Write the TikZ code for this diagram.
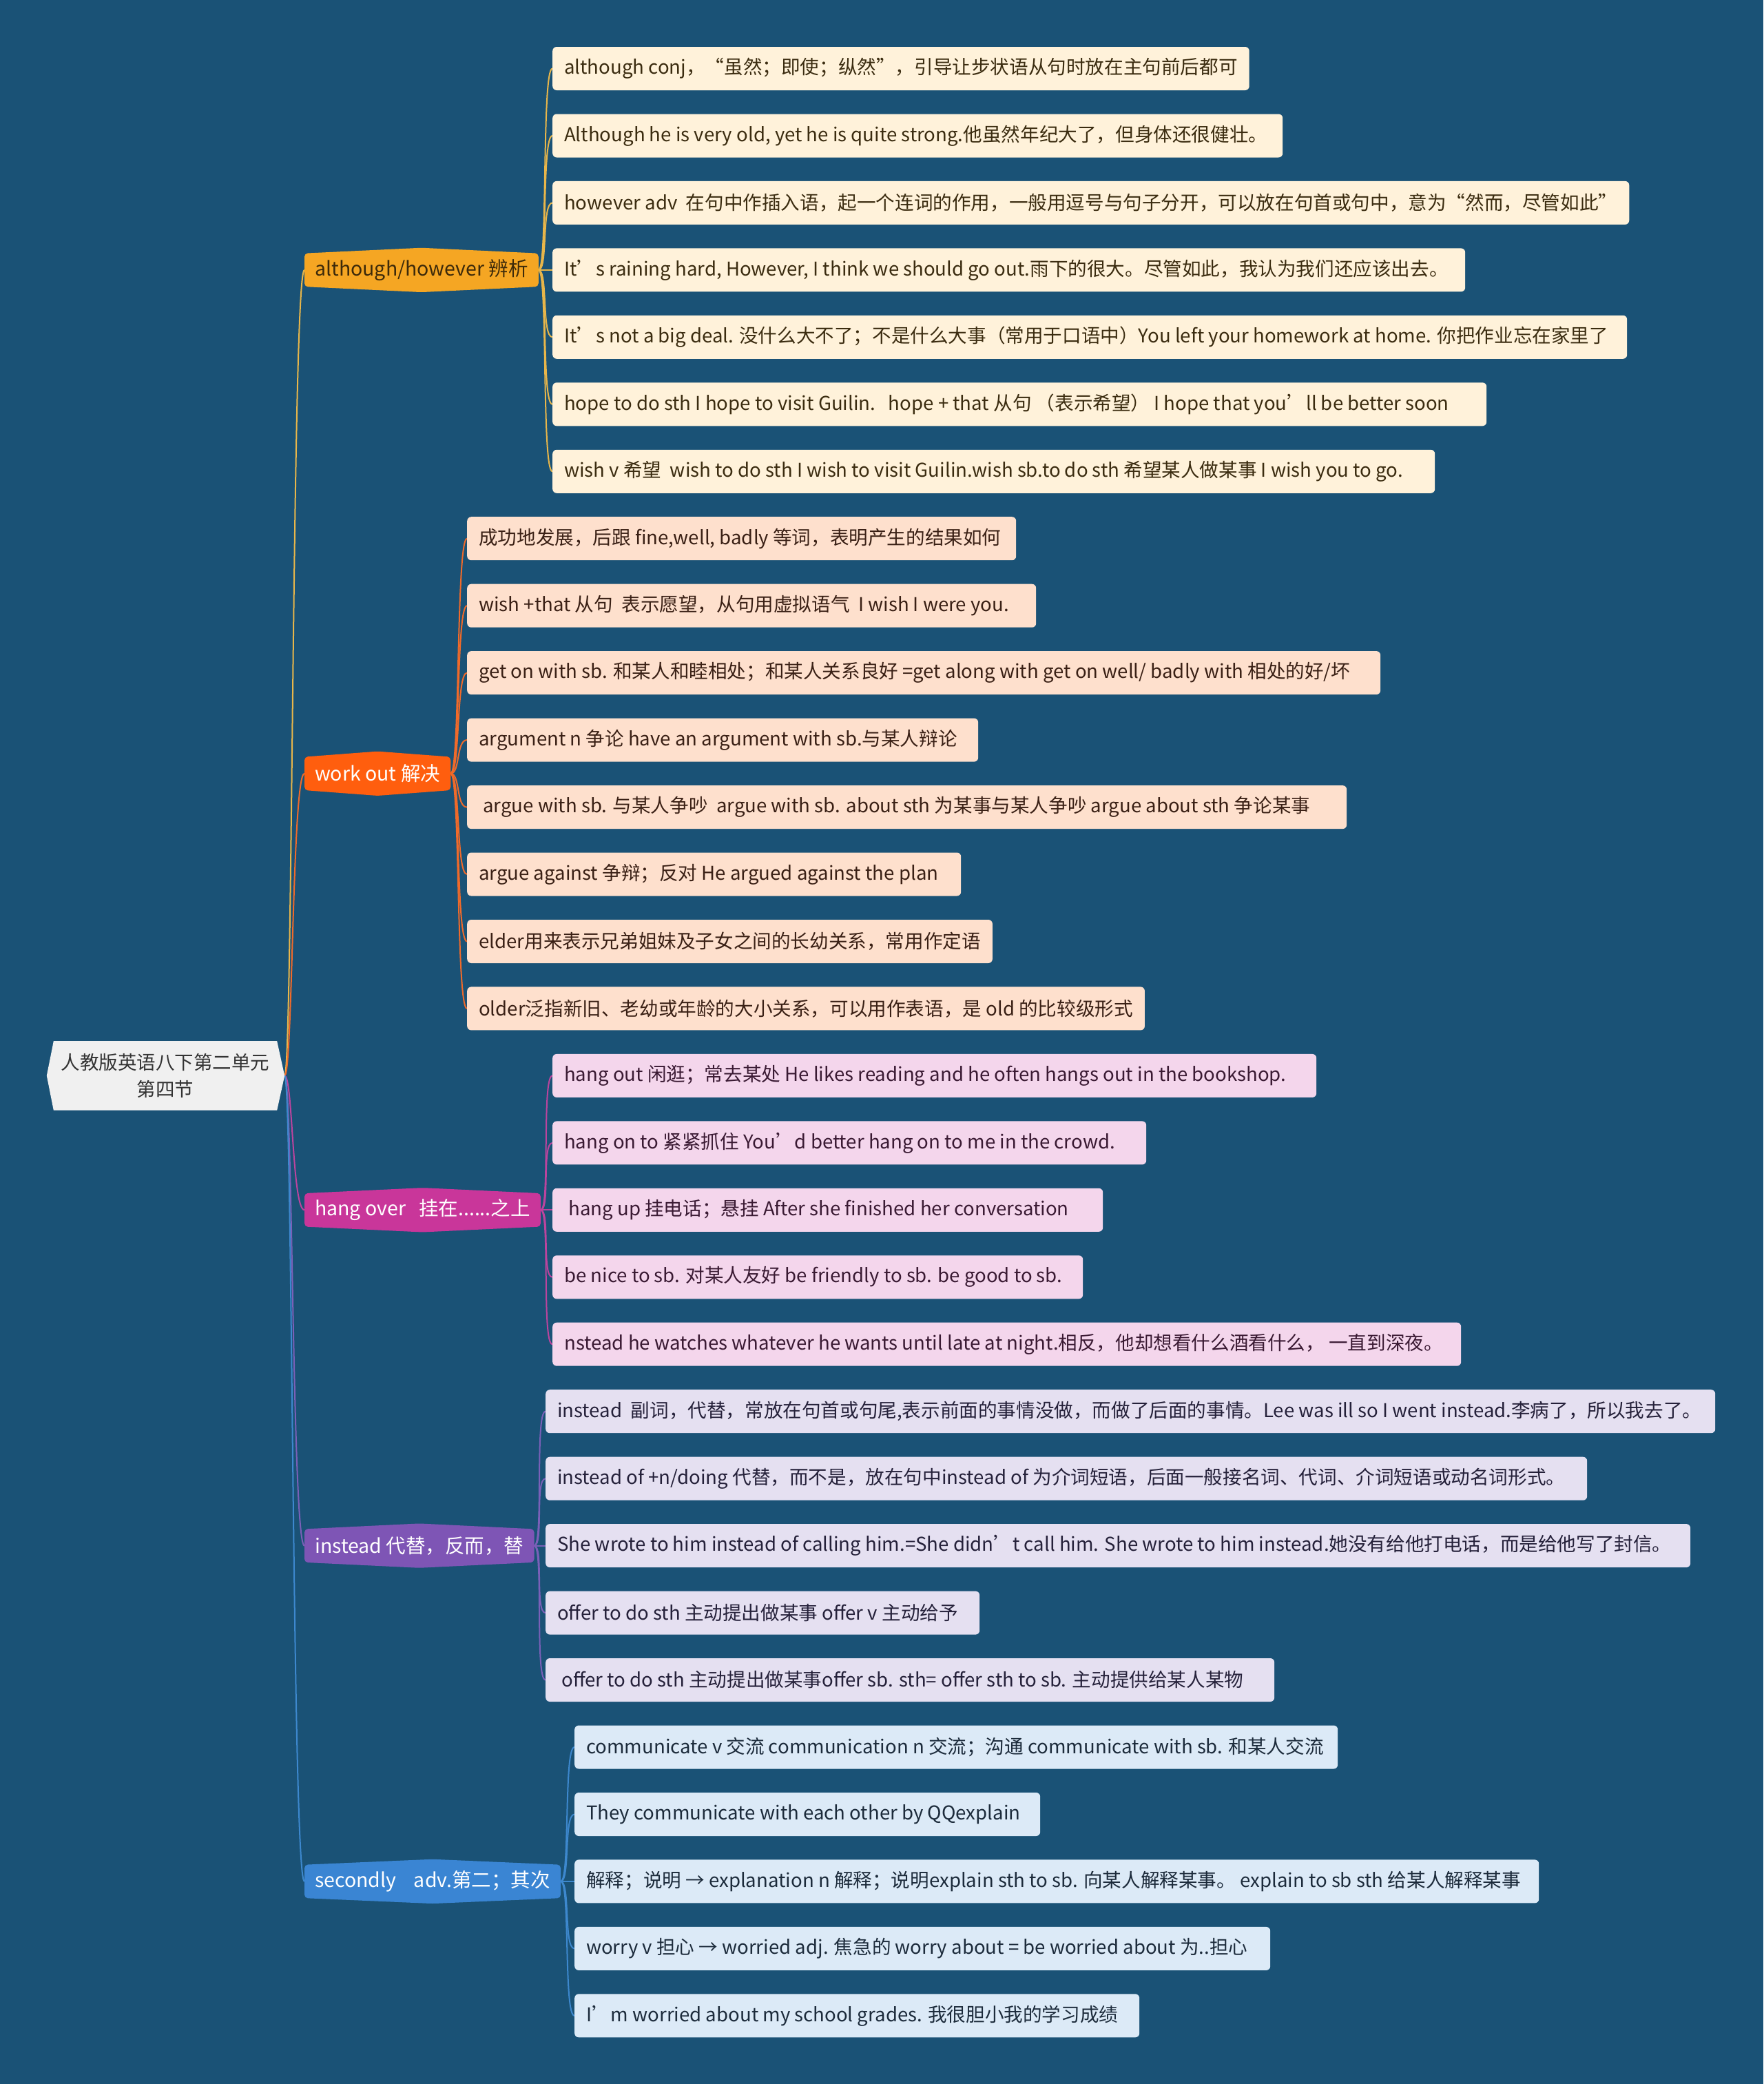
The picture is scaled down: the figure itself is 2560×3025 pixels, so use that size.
\documentclass[tikz,border=0pt]{standalone}
\usepackage{fontspec}
\setmainfont{Noto Sans CJK SC}
\usetikzlibrary{calc}
\definecolor{bgc}{HTML}{1A5276}
\definecolor{rootf}{HTML}{F0F0F0}
\definecolor{roott}{HTML}{333333}
\definecolor{bA}{HTML}{F5A623}
\definecolor{bB}{HTML}{FF5E0E}
\definecolor{bC}{HTML}{C9369A}
\definecolor{bD}{HTML}{7E55B5}
\definecolor{bE}{HTML}{3A85D3}
\definecolor{cA}{HTML}{E8B64A}
\definecolor{cB}{HTML}{F06A2A}
\definecolor{cC}{HTML}{BC449E}
\definecolor{cD}{HTML}{7A60B8}
\definecolor{cE}{HTML}{3D88CE}
\definecolor{fA}{HTML}{FFF2DA}
\definecolor{fB}{HTML}{FEE0CD}
\definecolor{fC}{HTML}{F4D6EC}
\definecolor{fD}{HTML}{E5E0F1}
\definecolor{fE}{HTML}{DCEAF7}
\definecolor{tA}{HTML}{3B2C10}
\definecolor{tB}{HTML}{3A2015}
\definecolor{tC}{HTML}{3A1A33}
\definecolor{tD}{HTML}{25213A}
\definecolor{tE}{HTML}{1C2B3B}
\definecolor{tBr}{HTML}{3D2A0A}
\newsavebox\ltbox
\newcommand\lt[2]{\sbox\ltbox{#2}\ifdim\wd\ltbox<#1\relax\makebox[#1][l]{\usebox\ltbox}\else\usebox\ltbox\fi}
\pgfdeclarelayer{back}
\pgfdeclarelayer{bg}
\pgfsetlayers{back,bg,main}
\tikzset{
  leaf/.style={rounded corners=6pt, minimum height=63pt, inner xsep=17pt, inner ysep=0pt, anchor=west, font=\fontsize{27.6}{32}\selectfont},
  lA/.style={leaf, fill=fA, text=tA},
  lB/.style={leaf, fill=fB, text=tB},
  lC/.style={leaf, fill=fC, text=tC},
  lD/.style={leaf, fill=fD, text=tD},
  lE/.style={leaf, fill=fE, text=tE},
  brn/.style={minimum height=48pt, inner xsep=15pt, inner ysep=0pt, anchor=west, font=\fontsize{28.5}{34}\selectfont},
  conn/.style={line width=2pt},
  rootnode/.style={minimum width=324pt, minimum height=100pt, inner sep=0pt, align=center, text=roott, font=\fontsize{27.5}{39}\selectfont}
}
\begin{document}
\begin{tikzpicture}[x=1pt,y=-1pt]
\begin{pgfonlayer}{back}
\fill[bgc] (0,0) rectangle (2560,3025);
\end{pgfonlayer}
\useasboundingbox (0,0) rectangle (2560,3025);

% root
\node[rootnode] (root) at (240,1561.4) {人教版英语八下第二单元\\第四节};
\coordinate (rootR) at ([xshift=11pt]root.east);

% branches
\node[brn, minimum width=329pt, text=tBr] (b1) at (442,391.9) {although/however 辨析};
\node[brn, minimum width=206pt, text=white] (b2) at (442,1122.8) {work out 解决};
\node[brn, minimum width=331pt, text=white] (b3) at (442,1756.3) {hang over~~~挂在......之上};
\node[brn, minimum width=320pt, text=white] (b4) at (442,2243.6) {instead 代替，反而，替};
\node[brn, minimum width=363pt, text=white] (b5) at (442,2730.9) {secondly~~~~adv.第二；其次};

% group A
\node[lA] (a0) at (802,99.5) {\lt{970pt}{although conj，“虽然；即使；纵然”，引导让步状语从句时放在主句前后都可}};
\node[lA] (a1) at (802,197.0) {\lt{1026pt}{Although he is very old, yet he is quite strong.他虽然年纪大了，但身体还很健壮。}};
\node[lA] (a2) at (802,294.4) {\lt{1526pt}{however adv~~在句中作插入语，起一个连词的作用，一般用逗号与句子分开，可以放在句首或句中，意为“然而，尽管如此”}};
\node[lA] (a3) at (802,391.9) {\lt{1291pt}{It’s raining hard, However, I think we should go out.雨下的很大。尽管如此，我认为我们还应该出去。}};
\node[lA] (a4) at (802,489.3) {\lt{1526pt}{It’s not a big deal. 没什么大不了；不是什么大事（常用于口语中）You left your homework at home. 你把作业忘在家里了}};
\node[lA] (a5) at (802,586.8) {\lt{1322pt}{hope to do sth I hope to visit Guilin.~~~hope + that 从句~（表示希望）~I hope that you’ll be better soon}};
\node[lA] (a6) at (802,684.3) {\lt{1247pt}{wish v 希望~~wish to do sth I wish to visit Guilin.wish sb.to do sth 希望某人做某事 I wish you to go.}};

% group B
\node[lB] (c0) at (678,781.7) {\lt{763pt}{成功地发展，后跟 fine,well, badly 等词，表明产生的结果如何}};
\node[lB] (c1) at (678,879.2) {\lt{792pt}{wish +that 从句~~表示愿望，从句用虚拟语气~~I wish I were you.}};
\node[lB] (c2) at (678,976.6) {\lt{1292pt}{get on with sb. 和某人和睦相处；和某人关系良好 =get along with get on well/ badly with 相处的好/坏}};
\node[lB] (c3) at (678,1074.1) {\lt{708pt}{argument n 争论 have an argument with sb.与某人辩论}};
\node[lB] (c4) at (678,1171.6) {\lt{1243pt}{~argue with sb. 与某人争吵~~argue with sb. about sth 为某事与某人争吵 argue about sth 争论某事}};
\node[lB] (c5) at (678,1269.0) {\lt{683pt}{argue against 争辩；反对 He argued against the plan}};
\node[lB] (c6) at (678,1366.5) {\lt{725pt}{elder用来表示兄弟姐妹及子女之间的长幼关系，常用作定语}};
\node[lB] (c7) at (678,1463.9) {\lt{943pt}{older泛指新旧、老幼或年龄的大小关系，可以用作表语，是 old 的比较级形式}};

% group C
\node[lC] (d0) at (802,1561.4) {\lt{1075pt}{hang out 闲逛；常去某处 He likes reading and he often hangs out in the bookshop.}};
\node[lC] (d1) at (802,1658.9) {\lt{828pt}{hang on to 紧紧抓住 You’d better hang on to me in the crowd.}};
\node[lC] (d2) at (802,1756.3) {\lt{765pt}{~hang up 挂电话；悬挂 After she finished her conversation}};
\node[lC] (d3) at (802,1853.8) {\lt{736pt}{be nice to sb. 对某人友好 be friendly to sb. be good to sb.}};
\node[lC] (d4) at (802,1951.2) {\lt{1285pt}{nstead he watches whatever he wants until late at night.相反，他却想看什么酒看什么，~一直到深夜。}};

% group D
\node[lD] (e0) at (792,2048.7) {\lt{1664pt}{instead~~副词，代替，常放在句首或句尾,表示前面的事情没做，而做了后面的事情。Lee was ill so I went instead.李病了，所以我去了。}};
\node[lD] (e1) at (792,2146.2) {\lt{1478pt}{instead of +n/doing 代替，而不是，放在句中instead of 为介词短语，后面一般接名词、代词、介词短语或动名词形式。}};
\node[lD] (e2) at (792,2243.6) {\lt{1628pt}{She wrote to him instead of calling him.=She didn’t call him. She wrote to him instead.她没有给他打电话，而是给他写了封信。}};
\node[lD] (e3) at (792,2341.1) {\lt{596pt}{offer to do sth 主动提出做某事 offer v 主动给予}};
\node[lD] (e4) at (792,2438.5) {\lt{1024pt}{~offer to do sth 主动提出做某事offer sb. sth= offer sth to sb. 主动提供给某人某物}};

% group E
\node[lE] (f0) at (834,2536.0) {\lt{1074pt}{communicate v 交流 communication n 交流；沟通 communicate with sb. 和某人交流}};
\node[lE] (f1) at (834,2633.5) {\lt{642pt}{They communicate with each other by QQexplain}};
\node[lE] (f2) at (834,2730.9) {\lt{1366pt}{解释；说明 → explanation n 解释；说明explain sth to sb. 向某人解释某事。 explain to sb sth 给某人解释某事}};
\node[lE] (f3) at (834,2828.4) {\lt{976pt}{worry v 担心 → worried adj. 焦急的 worry about = be worried about 为..担心}};
\node[lE] (f4) at (834,2925.8) {\lt{786pt}{I’m worried about my school grades. 我很胆小我的学习成绩}};

\begin{pgfonlayer}{bg}
  % root to branches
  \foreach \b/\c in {b1/cA,b2/cB,b3/cC,b4/cD,b5/cE}
    \draw[conn,\c] (rootR) .. controls +(12,0) and +(-18,0) .. (\b.west);
  % branches to leaves
  \foreach \l in {a0,a1,a2,a3,a4,a5,a6}
    \draw[conn,cA] (b1.east) .. controls +(14,0) and +(-16,0) .. (\l.west);
  \foreach \l in {c0,c1,c2,c3,c4,c5,c6,c7}
    \draw[conn,cB] (b2.east) .. controls +(14,0) and +(-16,0) .. (\l.west);
  \foreach \l in {d0,d1,d2,d3,d4}
    \draw[conn,cC] (b3.east) .. controls +(14,0) and +(-16,0) .. (\l.west);
  \foreach \l in {e0,e1,e2,e3,e4}
    \draw[conn,cD] (b4.east) .. controls +(14,0) and +(-16,0) .. (\l.west);
  \foreach \l in {f0,f1,f2,f3,f4}
    \draw[conn,cE] (b5.east) .. controls +(14,0) and +(-16,0) .. (\l.west);
  % branch shapes
  \foreach \b/\c in {b1/bA,b2/bB,b3/bC,b4/bD,b5/bE}
    \fill[\c, rounded corners=5pt] (\b.north west) -- ([yshift=8pt]\b.north) -- (\b.north east) -- (\b.south east) -- ([yshift=-8pt]\b.south) -- (\b.south west) -- cycle;
  % root shape
  \fill[rootf] (root.north west) -- (root.north east) -- (rootR) -- (root.south east) -- (root.south west) -- ([xshift=-10pt]root.west) -- cycle;
\end{pgfonlayer}
\end{tikzpicture}
\end{document}
